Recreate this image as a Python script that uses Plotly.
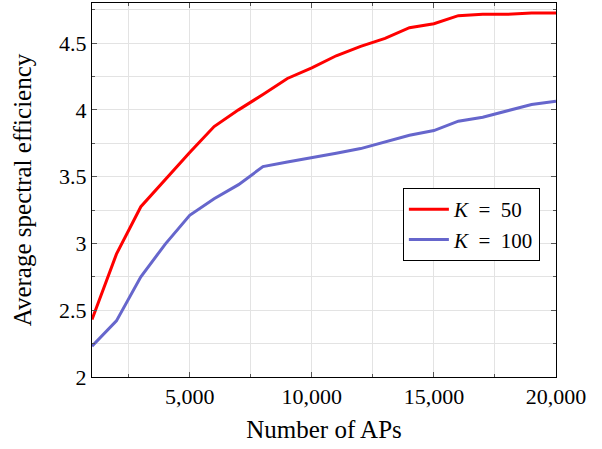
import plotly.graph_objects as go

num_aps = [1000, 2000, 3000, 4000, 5000, 6000, 7000, 8000, 9000, 10000,
           11000, 12000, 13000, 14000, 15000, 16000, 17000, 18000, 19000, 20000]
se_k50 = [2.43, 2.92, 3.275, 3.48, 3.68, 3.875, 4.0, 4.115, 4.235, 4.315,
          4.405, 4.475, 4.535, 4.615, 4.645, 4.705, 4.715, 4.715, 4.725, 4.725]
se_k100 = [2.23, 2.42, 2.75, 2.995, 3.21, 3.335, 3.44, 3.575, 3.61, 3.64,
           3.675, 3.71, 3.76, 3.81, 3.845, 3.915, 3.945, 3.995, 4.04, 4.065]
series_names = ["<i>K</i>&nbsp;&nbsp;=&nbsp;&nbsp;50", "<i>K</i>&nbsp;&nbsp;=&nbsp;&nbsp;100"]
y_ticks = [2, 2.5, 3, 3.5, 4, 4.5]
y_labels = ["2", "2.5", "3", "3.5", "4", "4.5"]
x_ticks = [5000, 10000, 15000, 20000]
x_labels = ["5,000", "10,000", "15,000", "20,000"]

font_family = "Liberation Serif, DejaVu Serif, serif"

fig = go.Figure()
fig.add_trace(go.Scatter(x=num_aps, y=se_k50, mode="lines", name=series_names[0],
                         line=dict(color="#ff0000", width=3)))
fig.add_trace(go.Scatter(x=num_aps, y=se_k100, mode="lines", name=series_names[1],
                         line=dict(color="#6666cc", width=3)))

axis_common = dict(
    showline=True, linecolor="black", linewidth=1, mirror="allticks",
    ticks="inside", ticklen=5, tickcolor="#555555",
    showgrid=True, gridcolor="#e3e3e3", gridwidth=1, zeroline=False,
    tickfont=dict(family=font_family, size=22, color="black"),
    automargin=False,
)

fig.update_xaxes(
    range=[1000, 20000], tickvals=x_ticks, ticktext=x_labels,
    title=dict(text="Number of APs", font=dict(family=font_family, size=25, color="black"), standoff=12),
    minor=dict(tick0=0, dtick=2500, showgrid=True, gridcolor="#e3e3e3", ticks="inside",
               ticklen=3, tickcolor="#555555"),
    **axis_common,
)
fig.update_yaxes(
    range=[2, 4.8], tickvals=y_ticks, ticktext=y_labels,
    title=dict(text="Average spectral efficiency", font=dict(family=font_family, size=25, color="black"), standoff=20),
    minor=dict(tick0=0, dtick=0.25, showgrid=True, gridcolor="#e3e3e3", ticks="inside",
               ticklen=3, tickcolor="#555555"),
    **axis_common,
)

fig.update_layout(
    width=602, height=449,
    margin=dict(l=92, r=46, t=3, b=72),
    paper_bgcolor="white", plot_bgcolor="white",
    font=dict(family=font_family, color="black"),
    legend=dict(x=0.67, y=0.505, xanchor="left", yanchor="top",
                bordercolor="black", borderwidth=1, bgcolor="white",
                font=dict(family=font_family, size=21, color="black"),
                tracegroupgap=0, itemwidth=40),
    showlegend=True,
)

fig.write_html("out.html", config={"displayModeBar": False},
               post_script="document.body.style.margin='0';")
